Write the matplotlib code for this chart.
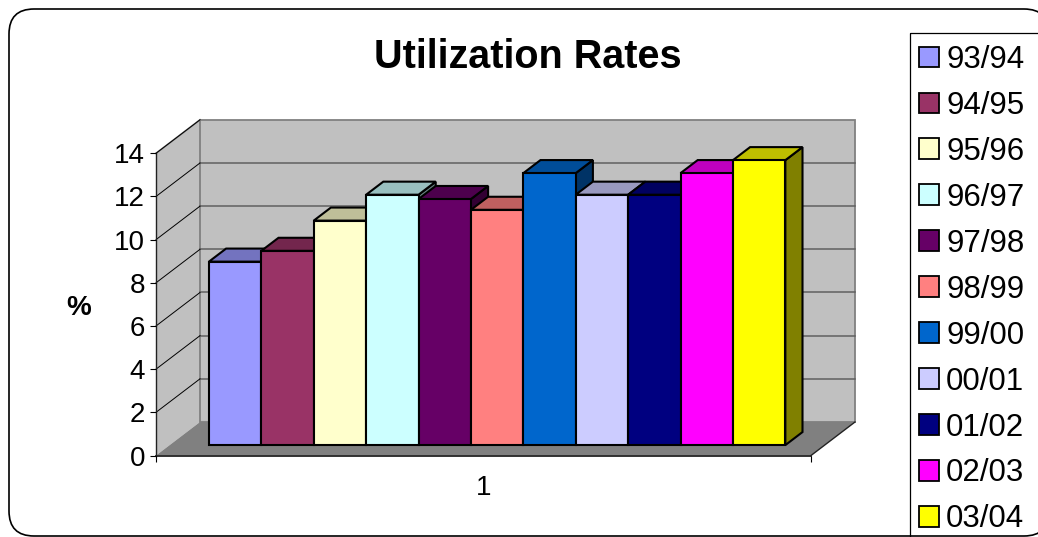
import matplotlib
matplotlib.use("Agg")

import matplotlib.pyplot as plt
from matplotlib.patches import Polygon, Rectangle, FancyBboxPatch, Patch
from matplotlib.colors import to_rgb

plt.rcParams["font.family"] = ["Liberation Sans", "DejaVu Sans"]

seasons = ["93/94", "94/95", "95/96", "96/97", "97/98", "98/99",
           "99/00", "00/01", "01/02", "02/03", "03/04"]
rates = [8.5, 9.0, 10.4, 11.6, 11.4, 10.9, 12.6, 11.6, 11.6, 12.6, 13.2]
colors = ["#9999FF", "#993366", "#FFFFCC", "#CCFFFF", "#660066", "#FF8080",
          "#0066CC", "#CCCCFF", "#000080", "#FF00FF", "#FFFF00"]
y_ticks = [0, 2, 4, 6, 8, 10, 12, 14]
category_labels = ["1"]

W, H = 1038, 537
fig = plt.figure(figsize=(W / 100, H / 100), dpi=100)

# pixel-space overlay for the chart border and legend frame
deco = fig.add_axes([0, 0, 1, 1])
deco.set_xlim(0, W)
deco.set_ylim(H, 0)
deco.axis("off")
deco.set_zorder(0)
deco.add_patch(FancyBboxPatch((9, 9), 1040, 527,
                              boxstyle="round,pad=0,rounding_size=25",
                              fc="white", ec="black", lw=1.2))
deco.add_patch(Rectangle((910, 33), 200, 600, fc="none", ec="black", lw=0.9))

# front plane of the 3-D plot area
left_px, right_px, base_px, top_px = 156, 811, 455.5, 153.3
ax = fig.add_axes([left_px / W, (H - base_px) / H,
                   (right_px - left_px) / W, (base_px - top_px) / H])
ax.set_zorder(1)
ax.patch.set_visible(False)
ax.set_xlim(-0.5, 0.5)
ax.set_ylim(0, 14)

DX = 44 / (right_px - left_px)          # depth offset, x units
DY = 33.5 / ((base_px - top_px) / 14)   # depth offset, value units
F0, F1 = 0.31, 0.70                      # bar depth span
ymax = 14

wall = "#C0C0C0"
# left wall
ax.add_patch(Polygon([(-0.5, 0), (-0.5, ymax), (-0.5 + DX, ymax + DY), (-0.5 + DX, DY)],
                     closed=True, fc=wall, ec="none", zorder=0.5, clip_on=False))
# back wall
ax.add_patch(Polygon([(-0.5 + DX, DY), (-0.5 + DX, ymax + DY),
                      (0.5 + DX, ymax + DY), (0.5 + DX, DY)],
                     closed=True, fc=wall, ec="#808080", lw=1.3, zorder=0.5, clip_on=False))
ax.plot([-0.5, -0.5 + DX], [ymax, ymax + DY], color="#808080", lw=1.2,
        zorder=0.6, clip_on=False)
for t in y_ticks[1:-1]:
    ax.plot([-0.5 + DX, 0.5 + DX], [t + DY, t + DY], color="#606060", lw=1.1,
            zorder=0.6, clip_on=False)
for t in y_ticks[1:]:
    ax.plot([-0.5, -0.5 + DX], [t, t + DY], color="black", lw=0.7,
            zorder=0.6, clip_on=False)
# floor
ax.add_patch(Polygon([(-0.5, 0), (0.5, 0), (0.5 + DX, DY), (-0.5 + DX, DY)],
                     closed=True, fc="#808080", ec="none", zorder=0.7, clip_on=False))
ax.plot([0.5, 0.5 + DX], [0, DY], color="#222222", lw=1.0, zorder=0.8, clip_on=False)


def shade(c, k):
    r, g, b = to_rgb(c)
    return (r * k, g * k, b * k)


n = len(rates)
bw = 1 / (n + 1.5)
x0 = [-0.5 + 0.75 * bw + i * bw + F0 * DX for i in range(n)]
b0 = F0 * DY
ddx, ddy = (F1 - F0) * DX, (F1 - F0) * DY
edge_lw = 1.5

for xl, v, c in zip(x0, rates, colors):
    top = [(xl, b0 + v), (xl + bw, b0 + v), (xl + bw + ddx, b0 + v + ddy), (xl + ddx, b0 + v + ddy)]
    side = [(xl + bw, b0), (xl + bw, b0 + v), (xl + bw + ddx, b0 + v + ddy), (xl + bw + ddx, b0 + ddy)]
    ax.add_patch(Polygon(side, closed=True, fc=shade(c, 0.5), ec="black", lw=edge_lw,
                         zorder=2, clip_on=False, joinstyle="miter"))
    ax.add_patch(Polygon(top, closed=True, fc=shade(c, 0.75), ec="black", lw=edge_lw,
                         zorder=2, clip_on=False, joinstyle="miter"))

ax.bar(x0, rates, width=bw, bottom=b0, align="edge", color=colors,
       edgecolor="black", linewidth=edge_lw, zorder=3, clip_on=False)

# axes
for s in ["top", "right"]:
    ax.spines[s].set_visible(False)
ax.spines["left"].set_color("#222222")
ax.spines["left"].set_linewidth(1.0)
ax.spines["bottom"].set_color("#222222")
ax.spines["bottom"].set_linewidth(1.3)
ax.spines["left"].set_zorder(0.9)
ax.spines["bottom"].set_zorder(0.9)

ax.set_yticks(y_ticks)
ax.set_yticklabels([str(t) for t in y_ticks])
ax.tick_params(axis="y", direction="out", length=4.3, width=0.8, pad=3.5,
               labelsize=20, colors="black")
ax.set_xticks([0])
ax.set_xticklabels(category_labels)
ax.set_xticks([-0.5, 0.5], minor=True)
ax.tick_params(axis="x", which="major", length=0, pad=14, labelsize=20)
ax.tick_params(axis="x", which="minor", direction="out", length=4.3, width=0.8)

fig.text(527.5 / W, (H - 68.3) / H, "Utilization Rates", ha="center", va="baseline",
         fontsize=28.5, fontweight="bold")
fig.text(79 / W, (H - 308) / H, "%", ha="center", va="center",
         fontsize=20, fontweight="bold")

handles = [Patch(facecolor=c, edgecolor="black", linewidth=1.3) for c in colors]
fig.legend(handles, seasons, loc="upper left", bbox_to_anchor=(919 / W, (H - 45) / H),
           frameon=False, fontsize=22.5, handlelength=0.65, handleheight=0.65,
           handletextpad=0.22, labelspacing=0.51, borderpad=0, borderaxespad=0)

fig.savefig("out.png", dpi=100)
